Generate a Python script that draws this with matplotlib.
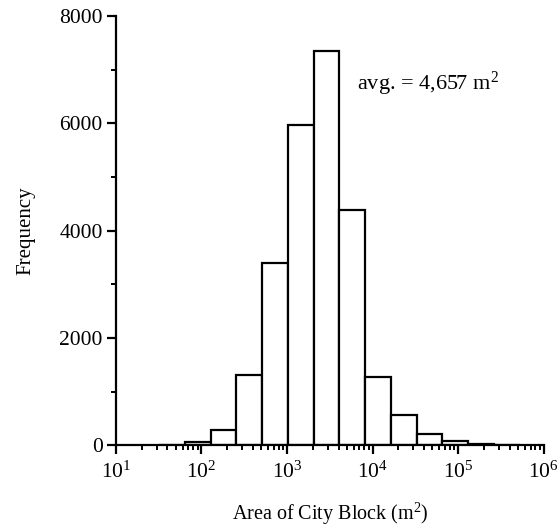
import matplotlib
matplotlib.use("Agg")
import matplotlib.pyplot as plt
import numpy as np
from matplotlib.ticker import LogLocator, MultipleLocator, LogFormatterSciNotation

plt.rcParams['font.family'] = ['Liberation Serif', 'DejaVu Serif']
plt.rcParams['mathtext.fontset'] = 'custom'
plt.rcParams['mathtext.rm'] = 'Liberation Serif'
plt.rcParams['mathtext.it'] = 'Liberation Serif:italic'

# block areas binned on powers of two, 2^5 .. 2^19 m^2
bin_edges = [2.0 ** k for k in range(5, 20)]
counts = [15, 60, 290, 1320, 3400, 5960, 7340, 4390, 1280, 575, 215, 75, 25, 10]
avg_label = "avg. = 4,657 m$^2$"

fig = plt.figure(figsize=(5.6, 5.29), dpi=100)
ax = fig.add_axes([0.207, 0.158, 0.764, 0.812])

edges = np.array(bin_edges)
ax.bar(edges[:-1], counts, width=np.diff(edges), align='edge',
       facecolor='white', edgecolor='black', linewidth=1.6, zorder=2)

ax.set_xscale('log')
ax.set_xlim(10, 1e6)
ax.set_ylim(0, 8000)

for side in ('top', 'right'):
    ax.spines[side].set_visible(False)
for side in ('left', 'bottom'):
    ax.spines[side].set_linewidth(1.6)
    ax.spines[side].set_zorder(3)

ax.xaxis.set_major_locator(LogLocator(base=10, numticks=10))
ax.xaxis.set_minor_locator(LogLocator(base=10, subs=np.arange(2, 10), numticks=10))
ax.xaxis.set_major_formatter(LogFormatterSciNotation())
ax.yaxis.set_major_locator(MultipleLocator(2000))
ax.yaxis.set_minor_locator(MultipleLocator(1000))

ax.tick_params(which='major', direction='out', length=6.5, width=1.6, labelsize=15.5)
ax.tick_params(which='minor', direction='out', length=3.6, width=1.4)
ax.tick_params(axis='x', which='major', pad=5)
ax.tick_params(axis='y', which='major', pad=3)

ax.set_xlabel("Area of City Block (m$^2$)", fontsize=14.5, labelpad=13)
ax.set_ylabel("Frequency", fontsize=15, labelpad=17)

ax.text(0.564, 0.827, avg_label, transform=ax.transAxes, fontsize=16,
        ha='left', va='baseline')

fig.savefig("out.png", dpi=100)
